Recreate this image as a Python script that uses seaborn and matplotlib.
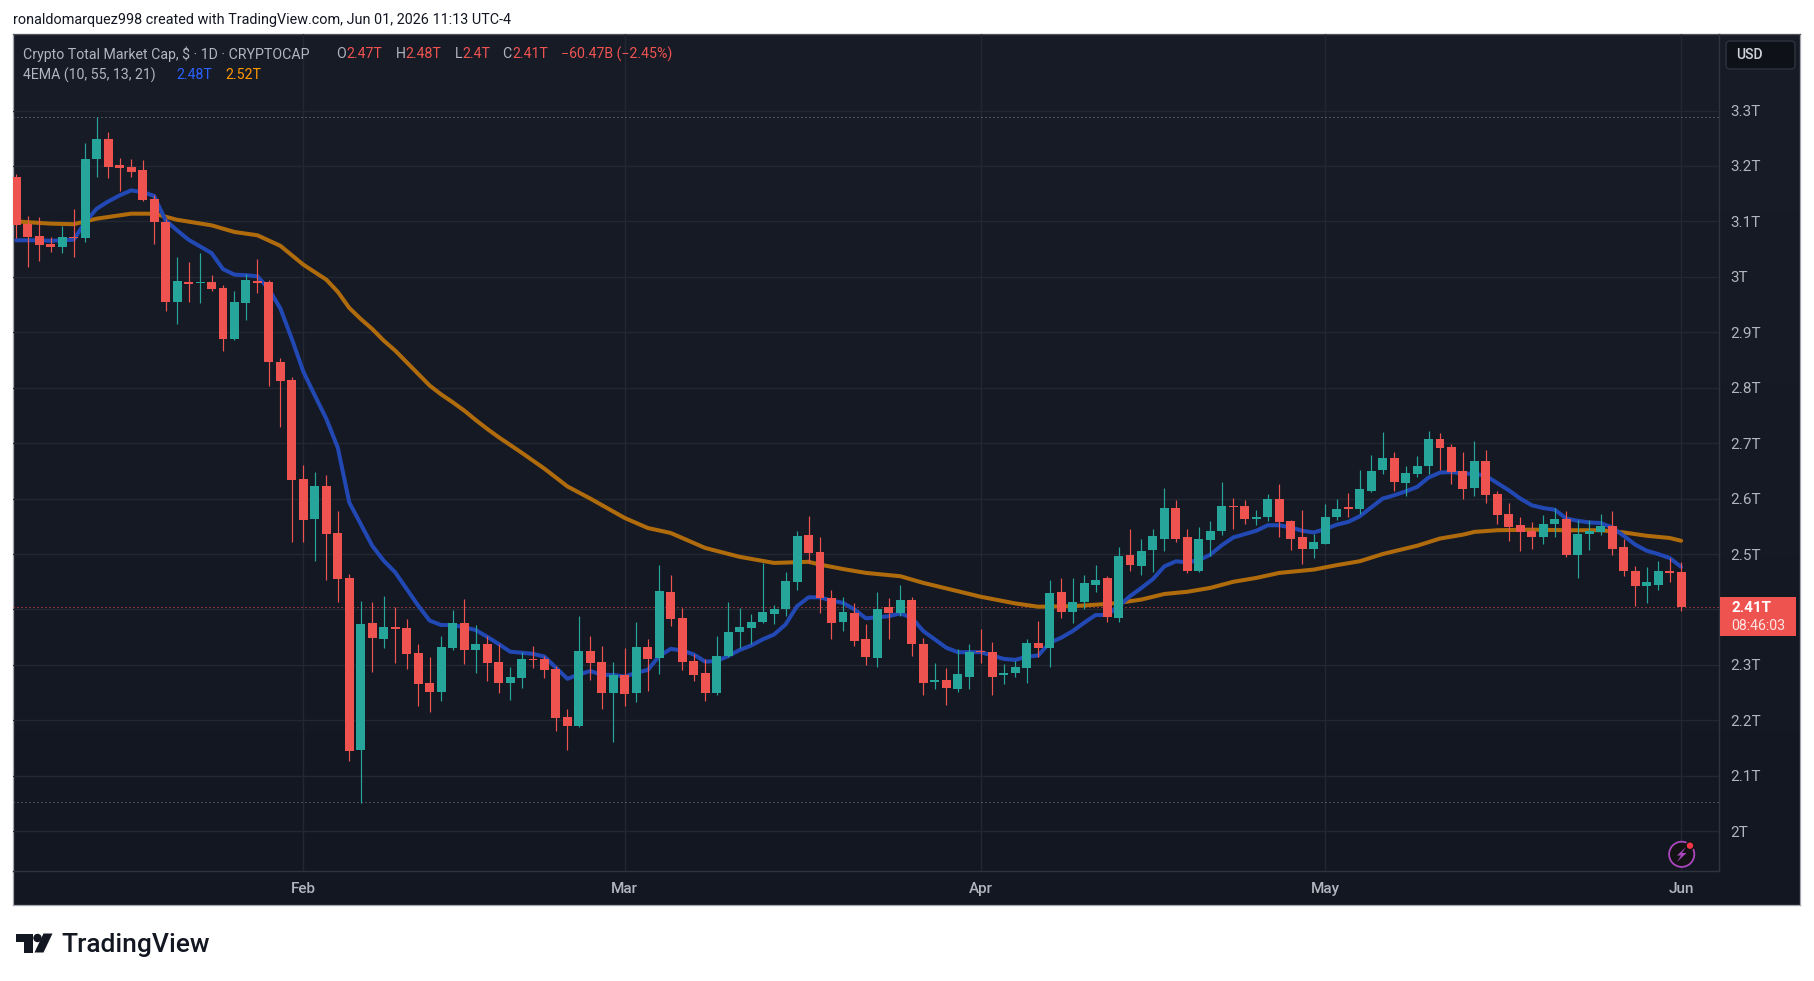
import numpy as np
import pandas as pd
import seaborn as sns
import matplotlib
matplotlib.use("Agg")
import matplotlib.pyplot as plt
from matplotlib.patches import Circle, FancyBboxPatch, Polygon, Rectangle

# Daily candles, Jan 7 to Jun 1 2026, values in trillions
opens = [3.181, 3.095, 3.074, 3.060, 3.054, 3.072, 3.070, 3.213, 3.248, 3.202,
         3.199, 3.192, 3.141, 3.099, 2.955, 2.991, 2.989, 2.991, 2.980, 2.888,
         2.953, 2.993, 2.991, 2.846, 2.814, 2.635, 2.563, 2.623, 2.538, 2.457,
         2.146, 2.375, 2.347, 2.368, 2.366, 2.321, 2.267, 2.251, 2.330, 2.375,
         2.327, 2.338, 2.305, 2.267, 2.276, 2.310, 2.310, 2.292, 2.206, 2.190,
         2.325, 2.305, 2.249, 2.281, 2.249, 2.332, 2.312, 2.432, 2.384, 2.307,
         2.285, 2.249, 2.316, 2.359, 2.366, 2.378, 2.392, 2.400, 2.450, 2.535,
         2.504, 2.421, 2.378, 2.394, 2.347, 2.313, 2.404, 2.394, 2.418, 2.337,
         2.270, 2.272, 2.257, 2.279, 2.326, 2.324, 2.281, 2.286, 2.295, 2.339,
         2.330, 2.431, 2.395, 2.413, 2.445, 2.456, 2.384, 2.498, 2.478, 2.508,
         2.528, 2.583, 2.530, 2.469, 2.525, 2.541, 2.586, 2.586, 2.563, 2.566,
         2.599, 2.559, 2.530, 2.510, 2.519, 2.566, 2.584, 2.582, 2.613, 2.652,
         2.673, 2.628, 2.644, 2.659, 2.708, 2.693, 2.650, 2.619, 2.668, 2.608,
         2.572, 2.552, 2.541, 2.530, 2.554, 2.564, 2.498, 2.536, 2.539, 2.550,
         2.512, 2.469, 2.443, 2.445, 2.470, 2.467]
highs = [3.186, 3.110, 3.108, 3.072, 3.092, 3.123, 3.242, 3.289, 3.262, 3.215,
         3.213, 3.211, 3.148, 3.105, 3.036, 3.027, 3.043, 3.004, 2.986, 2.975,
         3.005, 3.033, 2.995, 2.854, 2.819, 2.661, 2.648, 2.643, 2.578, 2.464,
         2.415, 2.413, 2.424, 2.404, 2.383, 2.338, 2.314, 2.352, 2.399, 2.419,
         2.372, 2.352, 2.338, 2.296, 2.323, 2.335, 2.317, 2.298, 2.220, 2.389,
         2.353, 2.334, 2.305, 2.330, 2.377, 2.346, 2.481, 2.463, 2.402, 2.319,
         2.310, 2.353, 2.413, 2.402, 2.391, 2.484, 2.409, 2.468, 2.542, 2.569,
         2.531, 2.436, 2.423, 2.412, 2.373, 2.432, 2.421, 2.445, 2.423, 2.349,
         2.304, 2.295, 2.329, 2.338, 2.364, 2.342, 2.301, 2.308, 2.346, 2.380,
         2.454, 2.456, 2.456, 2.463, 2.481, 2.460, 2.512, 2.545, 2.527, 2.546,
         2.620, 2.597, 2.546, 2.548, 2.559, 2.630, 2.602, 2.597, 2.579, 2.608,
         2.626, 2.562, 2.579, 2.537, 2.590, 2.599, 2.610, 2.652, 2.679, 2.721,
         2.684, 2.659, 2.677, 2.722, 2.719, 2.699, 2.684, 2.704, 2.688, 2.613,
         2.592, 2.566, 2.557, 2.570, 2.583, 2.577, 2.561, 2.561, 2.573, 2.577,
         2.527, 2.478, 2.476, 2.487, 2.492, 2.485]
lows = [3.070, 3.018, 3.029, 3.045, 3.043, 3.036, 3.063, 3.181, 3.179, 3.154,
        3.181, 3.137, 3.060, 2.939, 2.915, 2.955, 2.953, 2.975, 2.866, 2.886,
        2.922, 2.971, 2.804, 2.729, 2.522, 2.522, 2.487, 2.453, 2.413, 2.126,
        2.051, 2.287, 2.330, 2.303, 2.293, 2.226, 2.215, 2.235, 2.327, 2.301,
        2.285, 2.271, 2.249, 2.237, 2.258, 2.294, 2.276, 2.181, 2.147, 2.188,
        2.272, 2.220, 2.161, 2.226, 2.233, 2.253, 2.283, 2.371, 2.290, 2.271,
        2.235, 2.246, 2.314, 2.330, 2.337, 2.375, 2.373, 2.389, 2.436, 2.484,
        2.394, 2.346, 2.362, 2.335, 2.299, 2.297, 2.347, 2.389, 2.317, 2.245,
        2.256, 2.227, 2.252, 2.256, 2.304, 2.245, 2.265, 2.279, 2.268, 2.315,
        2.297, 2.384, 2.375, 2.400, 2.431, 2.378, 2.377, 2.469, 2.463, 2.467,
        2.505, 2.521, 2.465, 2.467, 2.496, 2.534, 2.545, 2.555, 2.552, 2.559,
        2.530, 2.508, 2.482, 2.493, 2.519, 2.561, 2.566, 2.572, 2.612, 2.644,
        2.613, 2.604, 2.639, 2.644, 2.652, 2.626, 2.599, 2.604, 2.592, 2.554,
        2.523, 2.505, 2.510, 2.519, 2.530, 2.494, 2.456, 2.508, 2.534, 2.499,
        2.461, 2.407, 2.411, 2.436, 2.449, 2.398]
closes = [3.094, 3.072, 3.058, 3.054, 3.072, 3.070, 3.213, 3.249, 3.199, 3.197,
          3.190, 3.139, 3.099, 2.955, 2.993, 2.987, 2.991, 2.978, 2.888, 2.955,
          2.995, 2.989, 2.847, 2.812, 2.634, 2.561, 2.623, 2.536, 2.455, 2.145,
          2.374, 2.348, 2.368, 2.365, 2.320, 2.265, 2.251, 2.332, 2.375, 2.327,
          2.338, 2.303, 2.267, 2.278, 2.310, 2.309, 2.290, 2.204, 2.190, 2.325,
          2.303, 2.249, 2.281, 2.247, 2.332, 2.310, 2.434, 2.382, 2.305, 2.281,
          2.249, 2.317, 2.359, 2.369, 2.378, 2.395, 2.401, 2.452, 2.533, 2.502,
          2.421, 2.376, 2.396, 2.344, 2.315, 2.400, 2.394, 2.418, 2.337, 2.268,
          2.272, 2.259, 2.283, 2.324, 2.324, 2.279, 2.286, 2.297, 2.339, 2.330,
          2.429, 2.395, 2.414, 2.447, 2.454, 2.386, 2.496, 2.480, 2.505, 2.532,
          2.583, 2.528, 2.469, 2.527, 2.541, 2.586, 2.584, 2.564, 2.566, 2.599,
          2.557, 2.528, 2.510, 2.522, 2.566, 2.582, 2.582, 2.617, 2.650, 2.673,
          2.630, 2.646, 2.659, 2.708, 2.692, 2.648, 2.617, 2.668, 2.606, 2.570,
          2.548, 2.539, 2.530, 2.555, 2.563, 2.499, 2.537, 2.541, 2.550, 2.510,
          2.469, 2.443, 2.449, 2.469, 2.465, 2.404]

# EMA 10, one reading per candle
ema10 = [3.066, 3.066, 3.066, 3.065, 3.066, 3.067, 3.099, 3.123, 3.136, 3.147,
         3.156, 3.153, 3.146, 3.102, 3.084, 3.067, 3.055, 3.043, 3.014, 3.004,
         3.003, 3.001, 2.978, 2.943, 2.888, 2.829, 2.786, 2.744, 2.692, 2.593,
         2.554, 2.515, 2.488, 2.467, 2.437, 2.407, 2.380, 2.372, 2.372, 2.368,
         2.363, 2.351, 2.338, 2.324, 2.322, 2.320, 2.315, 2.295, 2.275, 2.283,
         2.289, 2.282, 2.282, 2.279, 2.286, 2.291, 2.316, 2.329, 2.326, 2.319,
         2.306, 2.307, 2.316, 2.327, 2.335, 2.346, 2.355, 2.373, 2.406, 2.422,
         2.422, 2.416, 2.412, 2.400, 2.384, 2.386, 2.388, 2.393, 2.385, 2.361,
         2.346, 2.331, 2.323, 2.323, 2.323, 2.317, 2.311, 2.309, 2.315, 2.317,
         2.340, 2.349, 2.361, 2.376, 2.390, 2.390, 2.406, 2.424, 2.439, 2.455,
         2.478, 2.487, 2.485, 2.489, 2.499, 2.516, 2.530, 2.536, 2.542, 2.552,
         2.552, 2.548, 2.542, 2.539, 2.545, 2.553, 2.558, 2.568, 2.584, 2.600,
         2.606, 2.613, 2.621, 2.638, 2.647, 2.648, 2.645, 2.645, 2.641, 2.628,
         2.615, 2.600, 2.588, 2.583, 2.580, 2.564, 2.560, 2.557, 2.556, 2.548,
         2.533, 2.517, 2.506, 2.500, 2.493, 2.477]

# EMA 55 is smooth, so it is read at fewer candles
ema55_days = [0, 3, 5, 7, 10, 12, 14, 17, 19, 21, 23, 25, 27, 28, 29, 30, 31, 32,
              33, 34, 35, 36, 37, 38, 39, 40, 41, 42, 43, 44, 46, 48, 50, 53, 55,
              57, 60, 63, 66, 69, 70, 72, 74, 77, 79, 82, 84, 87, 89, 92, 95, 96,
              98, 100, 102, 104, 106, 108, 110, 113, 115, 117, 119, 122, 124,
              126, 127, 129, 132, 135, 138, 140, 142, 144, 145]
ema55 = [3.100, 3.096, 3.095, 3.105, 3.114, 3.114, 3.103, 3.093, 3.081, 3.075,
         3.056, 3.022, 2.995, 2.973, 2.944, 2.924, 2.906, 2.885, 2.867, 2.846,
         2.825, 2.804, 2.788, 2.774, 2.759, 2.742, 2.726, 2.711, 2.697, 2.683,
         2.654, 2.622, 2.600, 2.565, 2.547, 2.538, 2.511, 2.495, 2.484, 2.486,
         2.481, 2.473, 2.466, 2.460, 2.448, 2.433, 2.423, 2.411, 2.405, 2.406,
         2.410, 2.412, 2.418, 2.428, 2.432, 2.439, 2.450, 2.457, 2.466, 2.472,
         2.480, 2.487, 2.500, 2.515, 2.528, 2.535, 2.540, 2.543, 2.544, 2.543,
         2.543, 2.539, 2.533, 2.529, 2.524]

month_days = [25, 53, 84, 114, 145]
month_labels = ["Feb", "Mar", "Apr", "May", "Jun"]
price_ticks = [2.0, 2.1, 2.2, 2.3, 2.4, 2.5, 2.6, 2.7, 2.8, 2.9, 3.0, 3.1, 3.2, 3.3]
price_labels = ["2T", "2.1T", "2.2T", "2.3T", "", "2.5T", "2.6T", "2.7T", "2.8T",
                "2.9T", "3T", "3.1T", "3.2T", "3.3T"]
range_high = 3.288
range_low = 2.052
last_price = 2.404

UP = "#26a69a"
DOWN = "#ef5350"
GRID = "#232732"
TEXT = "#b2b5be"
W, H = 1814, 981

sns.set_theme(style="darkgrid")
plt.rcParams["font.family"] = ["Roboto", "DejaVu Sans"]

candles = pd.DataFrame({"open": opens, "high": highs, "low": lows, "close": closes})
candles["day"] = np.arange(len(candles))
candles["color"] = np.where(candles["close"] >= candles["open"], UP, DOWN)

fig = plt.figure(figsize=(W / 100, H / 100), dpi=100, facecolor="white")


def px_axes(left, top, right, bottom, **kw):
    return fig.add_axes([left / W, 1 - bottom / H, (right - left) / W, (bottom - top) / H], **kw)


# Panel background with the vertical gradient
bg = px_axes(13, 34, 1800, 905, zorder=0)
bg.imshow(np.linspace(0, 1, 256).reshape(-1, 1), aspect="auto",
          cmap=matplotlib.colors.LinearSegmentedColormap.from_list("bg", ["#181c27", "#131722"]))
bg.set_xticks([])
bg.set_yticks([])
bg.grid(False)
for s in bg.spines.values():
    s.set_color("#a3a6ad")
    s.set_linewidth(0.9)
bg.spines["top"].set_color("#50535c")

# Price pane
ax = px_axes(13, 34, 1719, 871, zorder=1)
ax.set_facecolor("none")
ax.set_axisbelow(True)
ax.grid(True, color=GRID, linewidth=1.0)

sns.lineplot(x=ema55_days, y=ema55, ax=ax, color="#b06c0c", linewidth=2.9, errorbar=None, legend=False, zorder=2)
sns.lineplot(x=candles["day"], y=ema10, ax=ax, color="#2248b4", linewidth=2.9, errorbar=None, legend=False, zorder=2.1)

ax.vlines(candles["day"], candles["low"], candles["high"], colors=candles["color"], linewidth=0.85, zorder=3)
ax.bar(candles["day"], (candles["close"] - candles["open"]).abs(),
       bottom=candles[["open", "close"]].min(axis=1), width=0.78,
       color=candles["color"], linewidth=0, zorder=3.1)

ax.axhline(range_high, color=TEXT, linestyle=(0, (1, 3)), linewidth=0.72, alpha=0.7, zorder=1.5)
ax.axhline(range_low, color=TEXT, linestyle=(0, (1, 3)), linewidth=0.72, alpha=0.7, zorder=1.5)
ax.axhline(last_price, color=DOWN, linestyle=(0, (1, 3)), linewidth=0.72, zorder=1.5)

ax.set_xlim(-0.29, 148.3)
ax.set_ylim(1.9283, 3.4381)
ax.yaxis.tick_right()
ax.set_yticks(price_ticks)
ax.set_yticklabels(price_labels)
ax.set_xticks(month_days)
ax.set_xticklabels(month_labels, fontweight="medium")
ax.tick_params(axis="y", length=0, pad=8, labelsize=11, labelcolor=TEXT)
ax.tick_params(axis="x", length=0, pad=8, labelsize=11, labelcolor=TEXT)
ax.set_xlabel("")
ax.set_ylabel("")
for name in ["top", "left"]:
    ax.spines[name].set_visible(False)
for name in ["right", "bottom"]:
    ax.spines[name].set_color("#2f333e")
    ax.spines[name].set_linewidth(1.0)

# Overlay in pixel coordinates for the header, legend, labels and logo
ui = px_axes(0, 0, W, H, zorder=2)
ui.set_xlim(0, W)
ui.set_ylim(H, 0)
ui.axis("off")

ui.text(13, 20, "ronaldomarquez998 created with TradingView.com, Jun 01, 2026 11:13 UTC-4",
        color="#131722", fontsize=10.4, va="center", ha="left")

row1 = [(23, "Crypto Total Market Cap, $ · 1D · CRYPTOCAP", TEXT), (336.5, "O", TEXT), (346.5, "2.47T", DOWN),
        (395.5, "H", TEXT), (405.5, "2.48T", DOWN), (454.5, "L", TEXT), (462, "2.4T", DOWN),
        (502.5, "C", TEXT), (512, "2.41T", DOWN), (561, "−60.47B (−2.45%)", DOWN)]
for x, s, c in row1:
    ui.text(x, 54, s, color=c, fontsize=10.2, va="center", ha="left")
row2 = [(23, "4EMA (10, 55, 13, 21)", TEXT), (176.5, "2.48T", "#2962ff"), (225, "2.52T", "#ff9800")]
for x, s, c in row2:
    ui.text(x, 75, s, color=c, fontsize=10.2, va="center", ha="left")

# Currency button
ui.add_patch(FancyBboxPatch((1726, 41), 69, 28, boxstyle="round,pad=0,rounding_size=4",
                            facecolor="#0e1118", edgecolor="#2a2e39", linewidth=1.2))
ui.text(1736, 55, "USD", color="#d1d4dc", fontsize=10, va="center", ha="left", fontweight="medium")

# Last price tag
ui.add_patch(Rectangle((1720, 597), 76, 39, facecolor=DOWN, edgecolor="none"))
ui.text(1731, 607.5, "2.41T", color="white", fontsize=11, fontweight="bold", va="center", ha="left")
ui.text(1731, 626, "08:46:03", color="#fde3e2", fontsize=10.2, va="center", ha="left")

# Bolt badge
ui.add_patch(Circle((1681.7, 854.3), 12.6, facecolor="#131316", edgecolor="#ab47bc", linewidth=1.3))
ui.add_patch(Polygon([(1686, 847), (1677, 855.5), (1681, 855.5), (1677, 862), (1686.5, 853), (1682, 853)],
                     closed=True, facecolor="#ab47bc", edgecolor="none"))
ui.add_patch(Circle((1690, 845.7), 4.6, facecolor="#131316", edgecolor="none"))
ui.add_patch(Circle((1690, 845.7), 3.2, facecolor="#f23645", edgecolor="none"))

# TradingView wordmark
LOGO = "#131722"
ui.add_patch(Polygon([(15.6, 933.5), (32.5, 933.5), (32.5, 952.5), (24, 952.5), (24, 942), (15.6, 942)],
                     closed=True, facecolor=LOGO, edgecolor="none"))
ui.add_patch(Circle((37.5, 938), 4.2, facecolor=LOGO, edgecolor="none"))
ui.add_patch(Polygon([(43.5, 933.5), (52.5, 933.5), (43.5, 952.5), (34.5, 952.5)],
                     closed=True, facecolor=LOGO, edgecolor="none"))
ui.text(61, 952.3, "TradingView", color=LOGO, fontsize=19, fontweight="medium", va="baseline", ha="left")

fig.savefig("out.png", dpi=100, facecolor="white")
